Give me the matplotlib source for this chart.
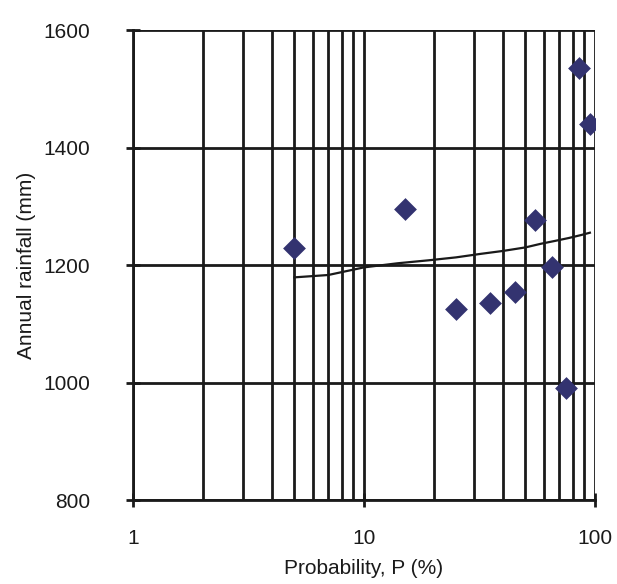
import matplotlib
matplotlib.use("Agg")
import matplotlib.pyplot as plt
import numpy as np
from matplotlib.ticker import FixedLocator, NullFormatter

plt.rcParams["font.family"] = ["Liberation Sans", "DejaVu Sans"]

# Observed annual rainfall vs plotting-position probability
prob = [5, 15, 25, 35, 45, 55, 65, 75, 85, 95]
rainfall = [1229, 1295, 1125, 1135, 1154, 1277, 1197, 990, 1535, 1440]

# Fitted curve
fit_p = [5, 7, 10, 14, 19, 25, 32, 40, 50, 58, 67, 77, 87, 95]
fit_r = [1179, 1183, 1196, 1203, 1208, 1213, 1219, 1224, 1230, 1236, 1241, 1246, 1251, 1255]

fig = plt.figure(figsize=(6.17, 5.84), dpi=100)
ax = fig.add_axes([0.2156, 0.1438, 0.7488, 0.8048])

ax.set_xscale("log")
ax.set_xlim(1, 100)
ax.set_ylim(800, 1600)

ax.plot(fit_p, fit_r, color="#1a1a1a", lw=1.6, zorder=3)
ax.scatter(prob, rainfall, marker="D", s=135, color="#333370", zorder=4, linewidths=0)

ax.xaxis.set_major_locator(FixedLocator([1, 10, 100]))
ax.xaxis.set_minor_locator(FixedLocator([m * d for d in (1, 10) for m in range(2, 10)]))
ax.xaxis.set_minor_formatter(NullFormatter())
ax.set_xticklabels(["1", "10", "100"])
ax.set_yticks([800, 1000, 1200, 1400, 1600])

ax.grid(True, which="both", color="#1a1a1a", lw=2.0)
ax.set_axisbelow(True)
ax.tick_params(which="major", direction="inout", length=10, width=2.0, color="#1a1a1a",
               labelsize=15, labelcolor="#1a1a1a")
ax.tick_params(which="minor", length=0)
ax.tick_params(axis="x", pad=16)
ax.tick_params(axis="y", pad=26)

for side in ("top", "right"):
    ax.spines[side].set_visible(False)
for side in ("left", "bottom"):
    ax.spines[side].set_linewidth(2.0)
    ax.spines[side].set_color("#1a1a1a")

ax.set_xlabel("Probability, P (%)", fontsize=15, labelpad=8, color="#1a1a1a")
ax.set_ylabel("Annual rainfall (mm)", fontsize=15, labelpad=5, color="#1a1a1a")

fig.savefig("out.png", dpi=100)
